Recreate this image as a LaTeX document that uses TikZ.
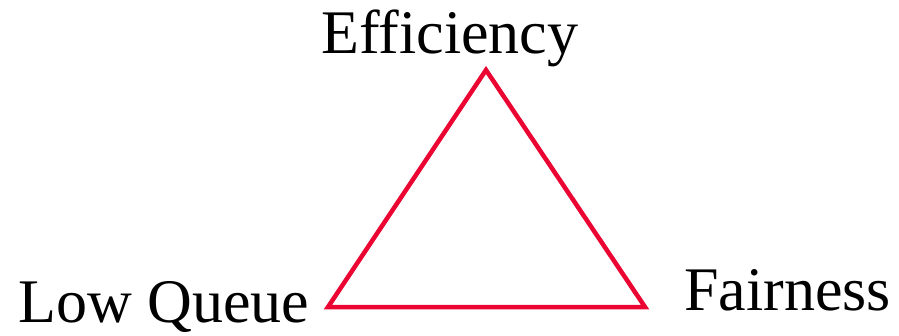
\documentclass[tikz,border=0pt]{standalone}
\usepackage{fontspec}
\setmainfont{Liberation Serif}
\definecolor{tri}{RGB}{235,5,50}
\begin{document}
\begin{tikzpicture}[x=1pt,y=-1pt,
  lbl/.style={anchor=base west,inner sep=0pt,font=\fontsize{62}{70}\selectfont},
  edge/.style={draw=tri,line width=4.5pt,line join=miter}]
\useasboundingbox (0,0) rectangle (899,335);
\coordinate (top) at (486,70);
\coordinate (bl) at (328,307);
\coordinate (br) at (645,307);
\draw[edge] (top) -- (bl) -- (br) -- cycle;
\node[lbl] (eff) at (321,53) {Efficiency};
\node[lbl] (lq) at (18,322) {Low Queue};
\node[lbl] (fair) at (684,310) {Fairness};
\end{tikzpicture}
\end{document}
